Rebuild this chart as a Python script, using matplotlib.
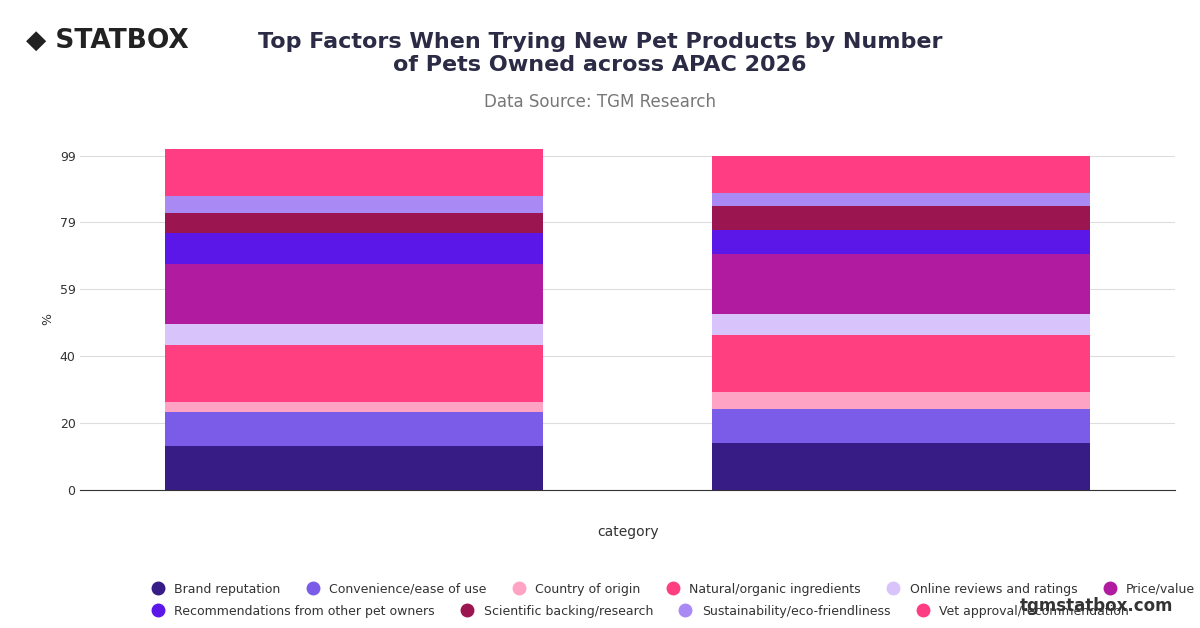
import matplotlib
matplotlib.use("Agg")
import matplotlib.pyplot as plt
import numpy as np

categories = ["1 pet", "2+ pets"]
factors = ["Brand reputation", "Convenience/ease of use", "Country of origin",
           "Natural/organic ingredients", "Online reviews and ratings", "Price/value",
           "Recommendations from other pet owners", "Scientific backing/research",
           "Sustainability/eco-friendliness", "Vet approval/recommendation"]
bar1 = [13, 10, 3, 17, 6, 18, 9, 6, 5, 14]
bar2 = [14, 10, 5, 17, 6, 18, 7, 7, 4, 11]
colors = ["#371c85", "#7b5ce8", "#ffa3c4", "#ff3f80", "#d8c4fa", "#b01ba0",
          "#5a17e8", "#9b1650", "#a98af5", "#ff3d83"]
yticks = [0, 20, 40, 59, 79, 99]

fig = plt.figure(figsize=(12, 6.28), dpi=100)
ax = fig.add_axes([0.067, 0.22, 0.912, 0.543])
vals = np.array([bar1, bar2])
x = np.arange(len(categories))
bottom = np.zeros(2)
for i, f in enumerate(factors):
    ax.bar(x, vals[:, i], bottom=bottom, width=0.69, color=colors[i], zorder=2)
    bottom += vals[:, i]
ax.set_xlim(-0.5, 1.5)
ax.set_ylim(0, 101)
ax.set_yticks(np.linspace(0, 99, 6))
ax.set_yticklabels([str(t) for t in yticks], fontsize=9, color="#333")
ax.set_xticks([])
ax.grid(axis="y", color="#dddddd", lw=0.8, zorder=0)
for s in ["top", "right", "left"]:
    ax.spines[s].set_visible(False)
ax.spines["bottom"].set_color("#333")
ax.tick_params(axis="y", length=0)
ax.set_ylabel("%", fontsize=9, color="#333")
ax.set_xlabel("category", fontsize=10, color="#333", labelpad=25)

fig.text(0.5, 0.915, "Top Factors When Trying New Pet Products by Number\nof Pets Owned across APAC 2026",
         ha="center", va="center", fontsize=16, fontweight="bold", color="#2b2b45", linespacing=1.2)
fig.text(0.5, 0.838, "Data Source: TGM Research", ha="center", va="center", fontsize=12, color="#777")
fig.text(0.022, 0.935, "◆ STATBOX", ha="left", va="center", fontsize=19, fontweight="bold", color="#222")
fig.text(0.978, 0.035, "tgmstatbox.com", ha="right", va="center", fontsize=12, fontweight="bold", color="#333")

def handles(idx):
    return [plt.Line2D([], [], marker="o", ls="", markersize=9, color=colors[i], label=factors[i]) for i in idx]
l1 = fig.legend(handles=handles(range(6)), loc="center left", bbox_to_anchor=(0.117, 0.062), ncol=6,
                frameon=False, fontsize=9, handletextpad=0.3, columnspacing=1.6, borderaxespad=0)
for t in l1.get_texts(): t.set_color("#333")
l2 = fig.legend(handles=handles(range(6, 10)), loc="center left", bbox_to_anchor=(0.117, 0.027), ncol=4,
                frameon=False, fontsize=9, handletextpad=0.3, columnspacing=1.6, borderaxespad=0)
for t in l2.get_texts(): t.set_color("#333")
fig.savefig("out.png", dpi=100)
